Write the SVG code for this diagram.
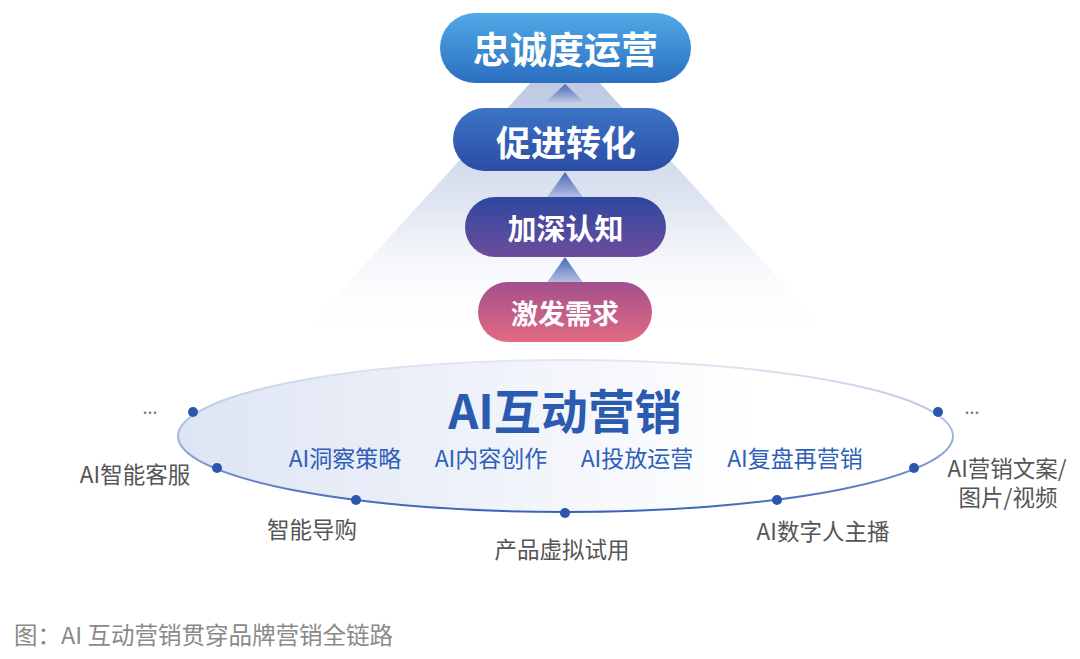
<svg xmlns="http://www.w3.org/2000/svg" width="1080" height="659" viewBox="0 0 1080 659">
<defs>
<linearGradient id="glow" x1="0" y1="0" x2="0" y2="1">
<stop offset="0" stop-color="#b4c0de"/>
<stop offset="0.55" stop-color="#dfe5f1"/>
<stop offset="1" stop-color="#ffffff" stop-opacity="0"/>
</linearGradient>
<linearGradient id="p1" x1="0" y1="0" x2="0" y2="1">
<stop offset="0" stop-color="#50aae6"/>
<stop offset="1" stop-color="#2b6ec0"/>
</linearGradient>
<linearGradient id="p2" x1="0" y1="0" x2="0" y2="1">
<stop offset="0" stop-color="#3c74c6"/>
<stop offset="1" stop-color="#2b4ca4"/>
</linearGradient>
<linearGradient id="p3" x1="0" y1="0" x2="0" y2="1">
<stop offset="0" stop-color="#2d48a0"/>
<stop offset="1" stop-color="#6e4c9c"/>
</linearGradient>
<linearGradient id="p4" x1="0" y1="0" x2="0" y2="1">
<stop offset="0" stop-color="#a24f8e"/>
<stop offset="1" stop-color="#e26b80"/>
</linearGradient>
<linearGradient id="tri" x1="0" y1="0" x2="0" y2="1">
<stop offset="0" stop-color="#4a68b8"/>
<stop offset="1" stop-color="#b9c5e3"/>
</linearGradient>
<linearGradient id="ellFill" x1="0" y1="0" x2="1" y2="0">
<stop offset="0" stop-color="#dde4f3"/>
<stop offset="0.75" stop-color="#ffffff"/>
<stop offset="1" stop-color="#ffffff"/>
</linearGradient>
<linearGradient id="ellStroke" x1="0" y1="0" x2="0" y2="1">
<stop offset="0" stop-color="#e2e8f3"/>
<stop offset="0.45" stop-color="#aabbe0"/>
<stop offset="1" stop-color="#3a63b8"/>
</linearGradient>
<style>
.pill text{font-family:"Noto Sans CJK SC","Noto Sans",sans-serif;font-weight:700;fill:#ffffff;text-anchor:middle;dominant-baseline:central}
.sub{font-family:"Noto Sans CJK SC","Noto Sans",sans-serif;font-size:23px;fill:#2f5fb8;text-anchor:middle}
.lab{font-family:"Noto Sans CJK SC","Noto Sans",sans-serif;font-size:22.5px;fill:#555555;text-anchor:middle}
.dots{font-family:"Noto Sans CJK SC","Noto Sans",sans-serif;font-size:18px;fill:#777777;text-anchor:middle}
.dot{fill:#2a56ad}
</style>
</defs>
<rect width="1080" height="659" fill="#ffffff"/>
<polygon points="565,45 300,335 830,335" fill="url(#glow)"/>

<g id="connectors">
<polygon points="565,84 546,102 584,102" fill="url(#tri)"/>
<polygon points="565,172 546,199 584,199" fill="url(#tri)"/>
<polygon points="565,257 546,284 584,284" fill="url(#tri)"/>
</g>

<g id="node-loyalty" class="pill">
<rect x="440" y="13" width="251" height="70" rx="35" fill="url(#p1)"/>
<text x="565.5" y="48" font-size="37">忠诚度运营</text>
</g>
<g id="node-conversion" class="pill">
<rect x="453" y="108" width="226" height="63" rx="31.5" fill="url(#p2)"/>
<text x="566" y="140" font-size="35">促进转化</text>
</g>
<g id="node-cognition" class="pill">
<rect x="465" y="197" width="201" height="60" rx="30" fill="url(#p3)"/>
<text x="565.5" y="227" font-size="29">加深认知</text>
</g>
<g id="node-demand" class="pill">
<rect x="478" y="282" width="174" height="60" rx="30" fill="url(#p4)"/>
<text x="565" y="312" font-size="27">激发需求</text>
</g>

<g id="node-ai-marketing">
<ellipse cx="565.5" cy="436" rx="387.5" ry="76" fill="url(#ellFill)" stroke="url(#ellStroke)" stroke-width="2"/>
<text x="565" y="429" font-family="'Noto Sans CJK SC','Noto Sans',sans-serif" font-size="47" font-weight="700" fill="#2a5bb0" text-anchor="middle">AI互动营销</text>
<text class="sub" x="345" y="467">AI洞察策略</text>
<text class="sub" x="491" y="467">AI内容创作</text>
<text class="sub" x="637" y="467">AI投放运营</text>
<text class="sub" x="795" y="467">AI复盘再营销</text>
<circle class="dot" cx="193" cy="412" r="5"/>
<circle class="dot" cx="217" cy="468" r="5"/>
<circle class="dot" cx="356" cy="500" r="5"/>
<circle class="dot" cx="565" cy="513" r="5"/>
<circle class="dot" cx="777" cy="500" r="5"/>
<circle class="dot" cx="914" cy="468" r="5"/>
<circle class="dot" cx="938" cy="412" r="5"/>
</g>

<g id="labels">
<text class="dots" x="150" y="414">...</text>
<text class="dots" x="972" y="414">...</text>
<text class="lab" x="135" y="483">AI智能客服</text>
<text class="lab" x="312" y="538">智能导购</text>
<text class="lab" x="562" y="558">产品虚拟试用</text>
<text class="lab" x="823" y="540">AI数字人主播</text>
<text class="lab" x="1007" y="477" font-size="22">AI营销文案/</text>
<text class="lab" x="1008" y="506" font-size="22">图片/视频</text>
</g>

<text id="caption" x="14" y="644" font-family="'Noto Sans CJK SC','Noto Sans',sans-serif" font-size="23.5" fill="#8a8a8a">图：AI 互动营销贯穿品牌营销全链路</text>
</svg>
